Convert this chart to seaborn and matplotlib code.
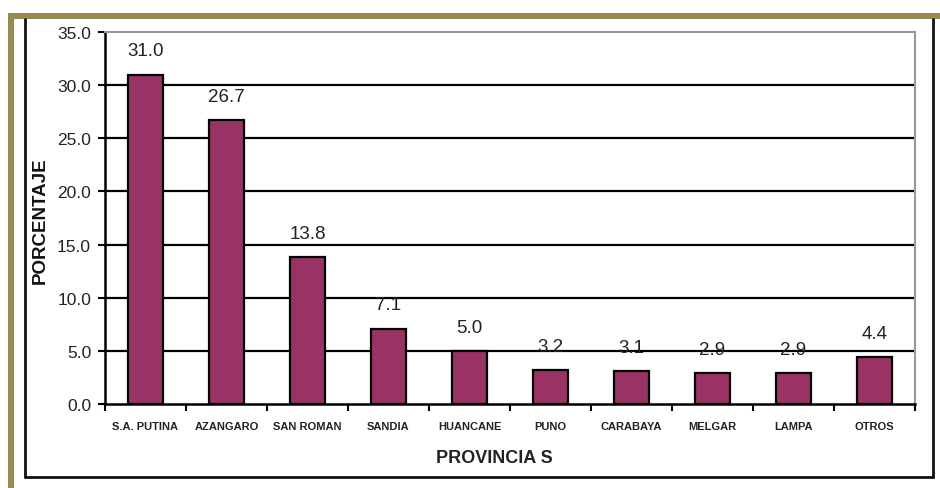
import matplotlib
matplotlib.use("Agg")
import matplotlib.pyplot as plt
import seaborn as sns
import pandas as pd
from matplotlib.patches import Rectangle
from matplotlib.lines import Line2D
from matplotlib.ticker import FixedLocator, FormatStrFormatter

provincias = ["S.A. PUTINA", "AZANGARO", "SAN ROMAN", "SANDIA", "HUANCANE",
              "PUNO", "CARABAYA", "MELGAR", "LAMPA", "OTROS"]
porcentaje = [31.0, 26.7, 13.8, 7.1, 5.0, 3.2, 3.1, 2.9, 2.9, 4.4]
y_ticks = [0.0, 5.0, 10.0, 15.0, 20.0, 25.0, 30.0, 35.0]
x_label = "PROVINCIA S"
y_label = "PORCENTAJE"

sns.set_theme(style="white")
plt.rcParams["font.family"] = ["Liberation Sans", "DejaVu Sans"]

W, H = 940, 489
fig = plt.figure(figsize=(W / 100, H / 100), dpi=100)
fig.patch.set_facecolor("white")

def fx(x):
    return x / W

def fy(y):
    return 1 - y / H

# olive frame bands
olive = "#978B52"
fig.patches.append(Rectangle((fx(8), fy(20)), fx(932), 6 / H, transform=fig.transFigure,
                             facecolor=olive, edgecolor="none", zorder=0))
fig.patches.append(Rectangle((fx(8), 0), fx(6), fy(14), transform=fig.transFigure,
                             facecolor=olive, edgecolor="none", zorder=0))
# black chart box
for xs, ys in [((25, 25), (20, 478)), ((25, 933), (478, 478)), ((933, 933), (20, 478))]:
    fig.lines.append(Line2D([fx(xs[0]), fx(xs[1])], [fy(ys[0]), fy(ys[1])],
                            transform=fig.transFigure, color="#111111", lw=2))

ax = fig.add_axes([fx(105), fy(405), fx(915 - 105), (405 - 33) / H])
ax.set_facecolor("white")

df = pd.DataFrame({"Provincia": provincias, "Porcentaje": porcentaje})

for v in y_ticks[1:-1]:
    ax.axhline(v, color="black", lw=1.6, zorder=0)

sns.barplot(data=df, x="Provincia", y="Porcentaje", order=provincias, ax=ax,
            color="#993366", saturation=1, edgecolor="black", linewidth=1.6,
            width=0.42, zorder=2)

for cont in ax.containers:
    ax.bar_label(cont, labels=[f"{v:.1f}" for v in porcentaje], padding=11,
                 fontsize=13.5, color="#222222")

ax.set_ylim(y_ticks[0], y_ticks[-1])
ax.set_xlim(-0.5, len(provincias) - 0.5)
ax.yaxis.set_major_locator(FixedLocator(y_ticks))
ax.yaxis.set_major_formatter(FormatStrFormatter("%.1f"))
ax.tick_params(axis="y", left=True, length=5, width=1.5, color="black",
               labelsize=12.5, labelcolor="#222222", pad=5)

ax.set_xticks(range(len(provincias)))
ax.set_xticklabels(provincias, fontsize=8, fontweight="bold", color="#222222")
ax.tick_params(axis="x", which="major", bottom=False, length=0, pad=12)
ax.set_xticks([i - 0.5 for i in range(len(provincias) + 1)], minor=True)
ax.tick_params(axis="x", which="minor", bottom=True, length=5, width=1.5, color="black")

for side in ["left", "bottom"]:
    ax.spines[side].set_color("black")
    ax.spines[side].set_linewidth(1.8)
for side in ["top", "right"]:
    ax.spines[side].set_color("#999999")
    ax.spines[side].set_linewidth(1.5)

ax.set_xlabel("")
ax.set_ylabel("")
fig.text(fx(40), fy(221), y_label, rotation=90, ha="center", va="center",
         fontsize=13.5, fontweight="bold", color="#111111")
fig.text(fx(494), fy(459), x_label, ha="center", va="center",
         fontsize=13, fontweight="bold", color="#222222")

fig.savefig("out.png", dpi=100, facecolor="white")
